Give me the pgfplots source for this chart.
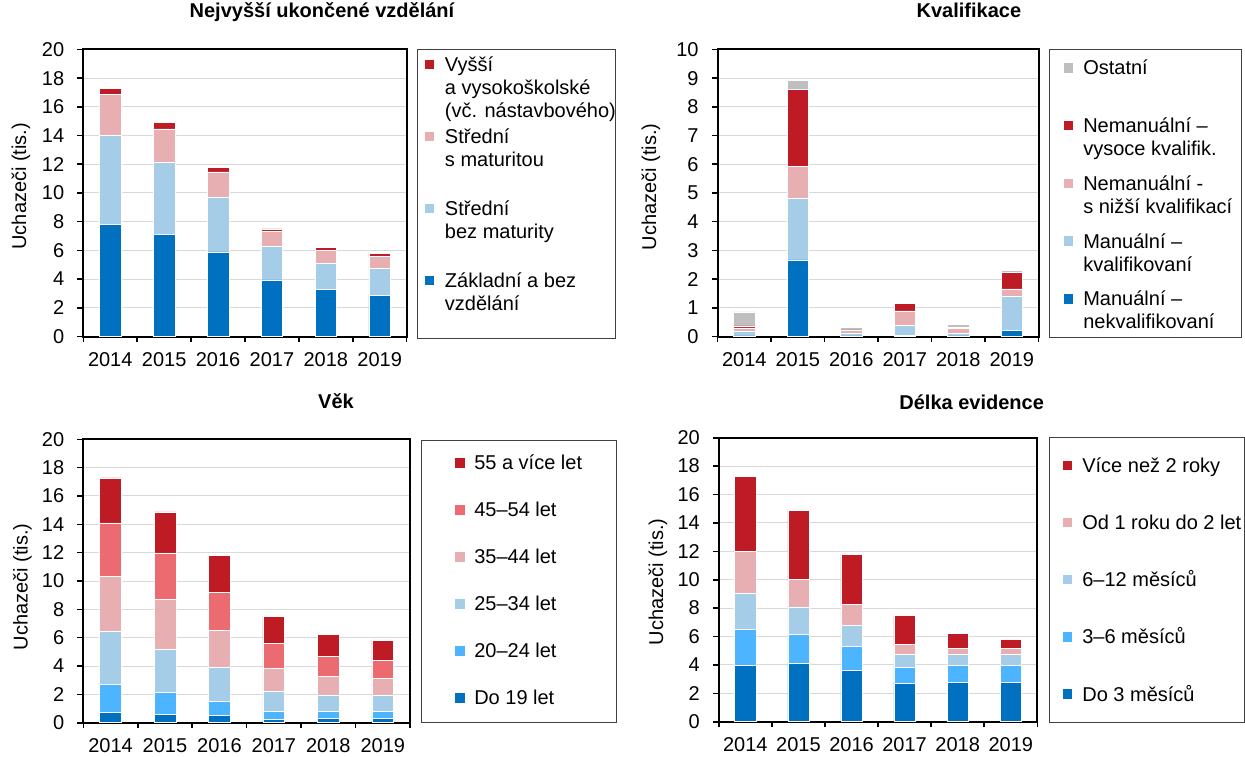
\documentclass[border=0pt]{standalone}
\usepackage{fontspec}
\setmainfont{Liberation Sans}
\usepackage{pgfplots}
\pgfplotsset{compat=1.18}

\definecolor{cDB}{HTML}{0070C0}
\definecolor{cLB}{HTML}{A6CDE8}
\definecolor{cMB}{HTML}{4DB5FF}
\definecolor{cPK}{HTML}{E8AFB3}
\definecolor{cSA}{HTML}{EC6B70}
\definecolor{cRD}{HTML}{BE1B24}
\definecolor{cGY}{HTML}{BFBFBF}

\newcommand{\lgd}[3]{\vtop to #1{\hbox{\makebox[#2][l]{\begin{tabular}[t]{@{}l@{}}#3\end{tabular}}}\vss}}

\pgfplotsset{
  sq legend/.style={legend image code/.code={\fill[##1,draw=none] (0pt,1.1pt) rectangle (4.75pt,5.85pt);}},
  bs/.style={fill=#1, draw=white, line width=0.3pt},
  base/.style={
    scale only axis, anchor=south west,
    ybar stacked, bar width=0.4,
    xmin=-0.5, xmax=5.5, ymin=0,
    xtick={0,...,5}, xticklabels={2014,2015,2016,2017,2018,2019},
    minor xtick={-0.5,0.5,...,5.5},
    tick align=outside, tick pos=left,
    major tick length=3pt, minor tick length=2.8pt,
    major x tick style={draw=none},
    every tick/.style={black, line width=0.8pt},
    ymajorgrids, major grid style={draw=black!15, line width=0.5pt},
    axis line style={line width=1pt},
    tick label style={font=\fontsize{10}{12}\selectfont},
    yticklabel style={xshift=-3pt},
    xticklabel style={yshift=-1.5pt},
    /pgf/number format/assume math mode=true,
    label style={font=\fontsize{10}{12}\selectfont},
    title style={font=\bfseries\fontsize{10}{12}\selectfont, anchor=base},
    ylabel={Uchazeči (tis.)},
    reverse legend,
    legend style={draw=black!75, line width=0.5pt, anchor=north west, row sep=0pt,
      font=\fontsize{10}{11.5}\selectfont,
      cells={anchor=base west}, nodes={inner sep=0pt, text depth={}}},
    every axis plot post/.append style={sq legend},
    set layers,
  }
}

\begin{document}
\begin{tikzpicture}

% Panel 1
\begin{axis}[base, at={(41.65pt,209.75pt)}, width=161.7pt, height=143.5pt,
  ymax=20, ytick={0,2,...,20},
  title={Nejvyšší ukončené vzdělání},
  title style={at={(axis description cs:0.738,1)}, yshift=10.1pt},
  every axis y label/.style={at={(axis description cs:-0.1926,0.524)}, rotate=90, anchor=center},
  legend style={at={(axis description cs:1.0328,1)}, inner xsep=3.5pt, inner ysep=2.65pt, column sep=5.35pt}]
\addplot[bs=cDB] coordinates {(0,7.8) (1,7.1) (2,5.9) (3,3.95) (4,3.3) (5,2.88)};
\addlegendentry{\lgd{30.9pt}{81.5pt}{Základní a bez\\vzdělání}}
\addplot[bs=cLB] coordinates {(0,6.2) (1,5.05) (2,3.8) (3,2.35) (4,1.79) (5,1.84)};
\addlegendentry{\lgd{36pt}{81.5pt}{Střední\\bez maturity}}
\addplot[bs=cPK] coordinates {(0,2.85) (1,2.32) (2,1.77) (3,1.02) (4,0.93) (5,0.88)};
\addlegendentry{\lgd{36pt}{81.5pt}{Střední\\s maturitou}}
\addplot[bs=cRD] coordinates {(0,0.45) (1,0.43) (2,0.33) (3,0.18) (4,0.21) (5,0.18)};
\addlegendentry{\lgd{36pt}{81.5pt}{Vyšší\\a vysokoškolské\\(vč. nástavbového)}}
\end{axis}

% Panel 2
\begin{axis}[base, at={(358.8pt,209.75pt)}, width=160.45pt, height=143.5pt,
  ymax=10, ytick={0,1,...,10},
  title={Kvalifikace},
  title style={at={(axis description cs:0.783,1)}, yshift=10.1pt},
  every axis y label/.style={at={(axis description cs:-0.2079,0.522)}, rotate=90, anchor=center},
  legend style={at={(axis description cs:1.0327,1)}, inner xsep=7.15pt, inner ysep=4.45pt, column sep=5pt}]
\addplot[bs=cDB] coordinates {(0,0.02) (1,2.67) (2,0.02) (3,0.05) (4,0.02) (5,0.21)};
\addlegendentry{\lgd{19.6pt}{72pt}{Manuální –\\nekvalifikovaní}}
\addplot[bs=cLB] coordinates {(0,0.15) (1,2.16) (2,0.09) (3,0.33) (4,0.09) (5,1.19)};
\addlegendentry{\lgd{28.85pt}{72pt}{Manuální –\\kvalifikovaní}}
\addplot[bs=cPK] coordinates {(0,0.13) (1,1.1) (2,0.09) (3,0.51) (4,0.16) (5,0.26)};
\addlegendentry{\lgd{28.85pt}{72pt}{Nemanuální -\\s nižší kvalifikací}}
\addplot[bs=cRD] coordinates {(0,0.07) (1,2.67) (2,0.03) (3,0.25) (4,0.06) (5,0.57)};
\addlegendentry{\lgd{28.85pt}{72pt}{Nemanuální –\\vysoce kvalifik.}}
\addplot[bs=cGY] coordinates {(0,0.49) (1,0.32) (2,0.1) (3,0.04) (4,0.08) (5,0.06)};
\addlegendentry{\lgd{28.85pt}{72pt}{Ostatní}}
\end{axis}

% Panel 3
\begin{axis}[base, at={(41.65pt,16.65pt)}, width=163.35pt, height=141.7pt,
  ymax=20, ytick={0,2,...,20},
  title={Věk},
  title style={at={(axis description cs:0.7735,1)}, yshift=9.3pt},
  every axis y label/.style={at={(axis description cs:-0.1861,0.48)}, rotate=90, anchor=center},
  legend style={at={(axis description cs:1.0327,0.9975)}, inner xsep=17.15pt, inner ysep=6.6pt, column sep=4.65pt}]
\addplot[bs=cDB] coordinates {(0,0.7) (1,0.61) (2,0.49) (3,0.26) (4,0.33) (5,0.33)};
\addlegendentry{\lgd{10.45pt}{54.2pt}{Do 19 let}}
\addplot[bs=cMB] coordinates {(0,2.03) (1,1.51) (2,0.99) (3,0.56) (4,0.49) (5,0.45)};
\addlegendentry{\lgd{23.5pt}{54.2pt}{20–24 let}}
\addplot[bs=cLB] coordinates {(0,3.72) (1,3.08) (2,2.42) (3,1.39) (4,1.13) (5,1.17)};
\addlegendentry{\lgd{23.5pt}{54.2pt}{25–34 let}}
\addplot[bs=cPK] coordinates {(0,3.9) (1,3.53) (2,2.64) (3,1.65) (4,1.34) (5,1.2)};
\addlegendentry{\lgd{23.5pt}{54.2pt}{35–44 let}}
\addplot[bs=cSA] coordinates {(0,3.75) (1,3.25) (2,2.66) (3,1.76) (4,1.41) (5,1.27)};
\addlegendentry{\lgd{23.5pt}{54.2pt}{45–54 let}}
\addplot[bs=cRD] coordinates {(0,3.17) (1,2.89) (2,2.59) (3,1.86) (4,1.54) (5,1.39)};
\addlegendentry{\lgd{23.5pt}{54.2pt}{55 a více let}}
\end{axis}

% Panel 4
\begin{axis}[base, at={(359.4pt,17.15pt)}, width=159.25pt, height=142pt,
  ymax=20, ytick={0,2,...,20},
  title={Délka evidence},
  title style={at={(axis description cs:0.794,1)}, yshift=8pt},
  every axis y label/.style={at={(axis description cs:-0.1912,0.493)}, rotate=90, anchor=center},
  legend style={at={(axis description cs:1.0352,1.0035)}, inner xsep=6.95pt, inner ysep=9.45pt, column sep=4.95pt}]
\addplot[bs=cDB] coordinates {(0,3.97) (1,4.08) (2,3.62) (3,2.68) (4,2.79) (5,2.79)};
\addlegendentry{\lgd{9.4pt}{73.9pt}{Do 3 měsíců}}
\addplot[bs=cMB] coordinates {(0,2.51) (1,2.05) (2,1.71) (3,1.12) (4,1.15) (5,1.15)};
\addlegendentry{\lgd{28.6pt}{73.9pt}{3–6 měsíců}}
\addplot[bs=cLB] coordinates {(0,2.58) (1,1.95) (2,1.48) (3,0.92) (4,0.8) (5,0.78)};
\addlegendentry{\lgd{28.6pt}{73.9pt}{6–12 měsíců}}
\addplot[bs=cPK] coordinates {(0,2.91) (1,1.92) (2,1.45) (3,0.7) (4,0.45) (5,0.47)};
\addlegendentry{\lgd{28.6pt}{73.9pt}{Od 1 roku do 2 let}}
\addplot[bs=cRD] coordinates {(0,5.31) (1,4.88) (2,3.52) (3,2.07) (4,1.03) (5,0.63)};
\addlegendentry{\lgd{28.6pt}{73.9pt}{Více než 2 roky}}
\end{axis}

\pgfresetboundingbox
\useasboundingbox (0,0) rectangle (622.5pt,378pt);
\end{tikzpicture}
\end{document}
